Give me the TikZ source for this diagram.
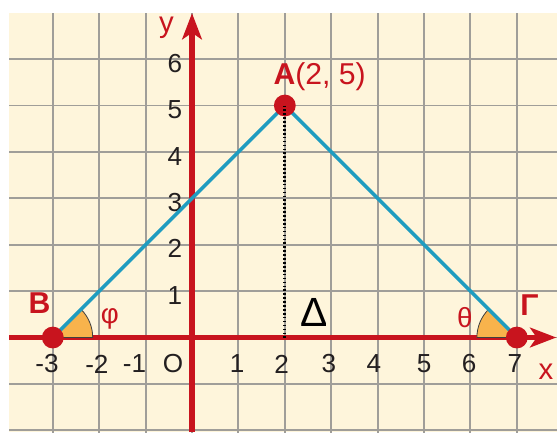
\documentclass[tikz,border=0pt]{standalone}
\usepackage{fontspec}
\setmainfont{Liberation Sans}
\usetikzlibrary{arrows.meta}
\definecolor{bgcream}{HTML}{FEF5DB}
\definecolor{gridgray}{HTML}{A09E99}
\definecolor{axred}{HTML}{C8141E}
\definecolor{segteal}{HTML}{1F9CC0}
\definecolor{wedgeorange}{HTML}{F8B34C}
\definecolor{txtdark}{HTML}{231F20}
\begin{document}
\begin{tikzpicture}[x=1cm,y=1cm,
  gridline/.style={draw=gridgray, line width=1.2pt},
  axisline/.style={draw=axred, line width=3.2pt, -{Stealth[length=16pt,width=12pt,inset=4pt]}},
  seg/.style={draw=segteal, line width=2.2pt},
  angw/.style={fill=wedgeorange, draw=black!75, line width=0.5pt, line join=round},
  dotline/.style={draw=black, line width=2pt, dash pattern=on 1pt off 1.4pt},
  ptdot/.style={circle, fill=axred, inner sep=0pt, minimum size=0.47cm},
  num/.style={font=\fontsize{16}{18}\selectfont, text=txtdark, inner sep=0pt},
  rlab/.style={font=\fontsize{18.5}{20}\selectfont\bfseries, text=axred, inner sep=0pt, anchor=base west},
  glab/.style={font=\fontsize{17}{19}\selectfont, text=axred, inner sep=0pt},
]
\useasboundingbox (-4.138,-2.037) rectangle (7.866,7.274);
% background and grid
\fill[bgcream] (-3.94,-2.037) rectangle (7.866,6.99);
\begin{scope}
  \clip (-3.94,-2.037) rectangle (7.866,6.99);
  \foreach \i in {-3,...,7} \draw[gridline] (\i,-2.2) -- (\i,7.1);
  \foreach \j in {-2,...,6} \draw[gridline] (-4.2,\j) -- (8,\j);
\end{scope}
% axes
\coordinate (xs) at (-3.94,0);
\coordinate (xe) at (7.85,0);
\coordinate (ys) at (0,-2.037);
\coordinate (ye) at (0,6.99);
\draw[axisline] (xs) -- (xe);
\draw[axisline] (ys) -- (ye);
\node[glab, font=\fontsize{18}{20}\selectfont] (ylab) at (-0.55,6.68) {y};
\node[glab, font=\fontsize{18}{20}\selectfont] (xlab) at (7.63,-0.74) {x};
% tick labels
\foreach \n in {1,...,6} \node[num] (yl\n) at (-0.37,\n-0.09) {\n};
\node[num] (xm3) at (-3.125,-0.57) {-3};
\node[num] (xm2) at (-2.05,-0.57) {-2};
\node[num] (xm1) at (-1.24,-0.57) {-1};
\node[num] (xo) at (-0.41,-0.57) {O};
\foreach \n/\p in {1/0.97,2/1.93,3/2.95,4/3.92,5/5.0,6/5.97,7/6.96} \node[num] (xl\n) at (\p,-0.57) {\n};
% points
\coordinate (B) at (-3,0);
\coordinate (A) at (2,5);
\coordinate (G) at (7,0);
\coordinate (D) at (2,0);
% angle wedges
\filldraw[angw] (B) -- ++(0:0.86) arc[start angle=0,end angle=45,radius=0.86] -- cycle;
\filldraw[angw] (G) -- ++(180:0.86) arc[start angle=180,end angle=135,radius=0.86] -- cycle;
% triangle sides
\draw[seg] (B) -- (A) -- (G);
% dots
\node[ptdot] (Bdot) at (B) {};
\node[ptdot] (Adot) at (A) {};
\node[ptdot] (Gdot) at (G) {};
\draw[dotline] (A) -- (D);
% labels
\node[rlab] (Alab) at (1.75,5.46) {A\mdseries(2, 5)};
\node[rlab] (Blab) at (-3.53,0.52) {B};
\node[rlab] (Glab) at (7.07,0.48) {Γ};
\node[glab] (phi) at (-1.77,0.41) {φ};
\node[glab] (theta) at (5.88,0.43) {θ};
\node[num, font=\fontsize{25}{27}\selectfont, text=black] (Delta) at (2.63,0.54) {Δ};
\end{tikzpicture}
\end{document}
